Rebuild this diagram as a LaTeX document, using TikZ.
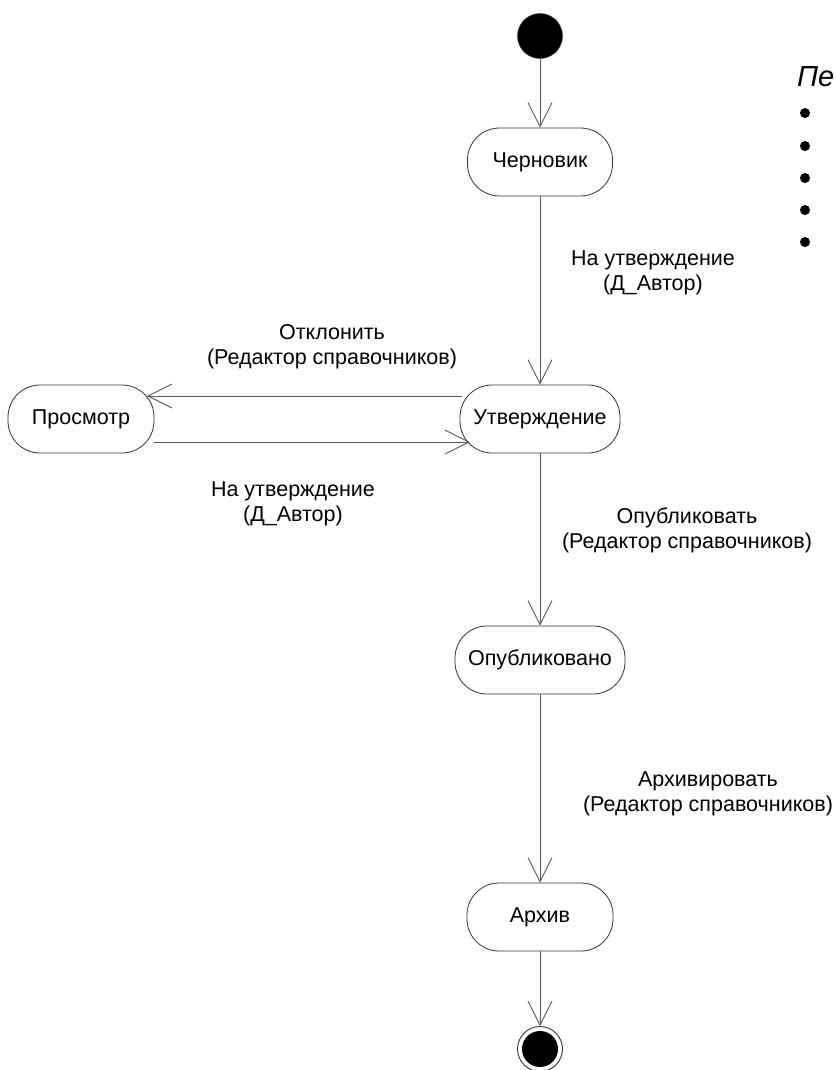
\documentclass[tikz,border=0pt]{standalone}
\usepackage{fontspec}
\setmainfont{Liberation Sans}
\usetikzlibrary{arrows.meta}
\tikzset{
  state/.style={draw=black!80, line width=0.8pt, rectangle, rounded corners=32pt, minimum height=68pt, inner sep=0pt, font=\fontsize{21.5}{25}\selectfont},
  conn/.style={draw=black!65, line width=0.9pt, -{Straight Barb[length=24pt,width=24pt,line width=0.9pt]}},
  lbl/.style={align=center, font=\fontsize{21.5}{25}\selectfont, inner sep=0pt},
  dot/.style={circle, fill=black, minimum size=10pt, inner sep=0pt}
}
\begin{document}
\begin{tikzpicture}[x=1pt,y=-1pt]
\useasboundingbox (0,0) rectangle (835,1070);
\node[circle, fill=black, draw=black!80, minimum size=45pt, inner sep=0pt] (init) at (540,36) {};
\node[state, minimum width=145pt] (draft) at (540,162) {Черновик};
\node[state, minimum width=160pt] (appr) at (540,419) {Утверждение};
\node[state, minimum width=146pt] (view) at (81,419) {Просмотр};
\node[state, minimum width=170pt] (pub) at (540,660) {Опубликовано};
\node[state, minimum width=146pt] (arch) at (540,917) {Архив};
\node[circle, draw=black!80, line width=0.9pt, minimum size=45pt, inner sep=0pt] (final) at (540,1049) {};
\node[circle, fill=black, minimum size=36pt, inner sep=0pt] (finalin) at (final.center) {};

\draw[conn] (init) -- (draft);
\draw[conn] (draft) -- (appr);
\coordinate (a1) at (462,396);
\coordinate (v1) at (147,396);
\coordinate (v2) at (154,442);
\coordinate (a2) at (470,442);
\draw[conn] (a1) -- (v1);
\draw[conn] (v2) -- (a2);
\draw[conn] (appr) -- (pub);
\draw[conn] (pub) -- (arch);
\draw[conn] (arch) -- (final);

\node[lbl] (l1) at (653,273) {На утверждение\\(Д\_Автор)};
\node[lbl] (l2) at (332,347) {Отклонить\\(Редактор справочников)};
\node[lbl] (l3) at (293,504) {На утверждение\\(Д\_Автор)};
\node[lbl] (l4) at (687,530) {Опубликовать\\(Редактор справочников)};
\node[lbl] (l5) at (708,794) {Архивировать\\(Редактор справочников)};

\node[anchor=base west, inner sep=0pt, font=\fontsize{29}{32}\selectfont\itshape] (title) at (797,87) {Пе};
\foreach \y [count=\i] in {113,146,178,210,242} \node[dot] (b\i) at (805,\y) {};
\end{tikzpicture}
\end{document}
